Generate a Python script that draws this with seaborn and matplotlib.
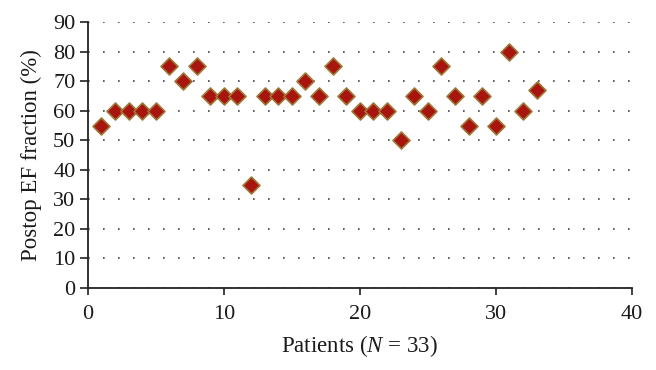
import matplotlib
matplotlib.use("Agg")
import matplotlib.pyplot as plt
import seaborn as sns
import pandas as pd

patients = list(range(1, 34))
postop_ef = [55, 60, 60, 60, 60, 75, 70, 75, 65, 65,
             65, 35, 65, 65, 65, 70, 65, 75, 65, 60,
             60, 60, 50, 65, 60, 75, 65, 55, 65, 55,
             80, 60, 67]

df = pd.DataFrame({"patient": patients, "ef": postop_ef})

sns.set_style("white")
plt.rcParams['font.family'] = ['Liberation Serif', 'DejaVu Serif']
plt.rcParams['mathtext.fontset'] = 'custom'
plt.rcParams['mathtext.rm'] = 'Liberation Serif'
plt.rcParams['mathtext.it'] = 'Liberation Serif:italic'

fig = plt.figure(figsize=(6.56, 3.70), dpi=100)
ax = fig.add_axes([0.134, 0.222, 0.829, 0.718])

ax.yaxis.grid(True, linestyle=(0, (1, 8)), linewidth=1.2, color='#444444')
ax.set_axisbelow(True)

sns.scatterplot(data=df, x="patient", y="ef", ax=ax, marker='D', s=75,
                color='#A8150E', edgecolor='#9C7A3A', linewidth=1.2, zorder=3)

ax.set_xlim(0, 40)
ax.set_ylim(0, 90)
ax.set_xticks(range(0, 41, 10))
ax.set_yticks(range(0, 91, 10))

for side in ['top', 'right']:
    ax.spines[side].set_visible(False)
for side in ['left', 'bottom']:
    ax.spines[side].set_color('#222222')
    ax.spines[side].set_linewidth(1.3)

ax.tick_params(axis='both', direction='out', width=1.2,
               color='#222222', labelsize=16, labelcolor='#1a1a1a')
ax.tick_params(axis='y', left=True, length=6, pad=3)
ax.tick_params(axis='x', bottom=True, length=5, pad=7)

ax.set_xlabel("Patients ($\\mathit{N}$ = 33)", fontsize=16.5, color='#1a1a1a', labelpad=7)
ax.set_ylabel("Postop EF fraction (%)", fontsize=16.5, color='#1a1a1a', labelpad=8)

fig.savefig("out.png", dpi=100)
